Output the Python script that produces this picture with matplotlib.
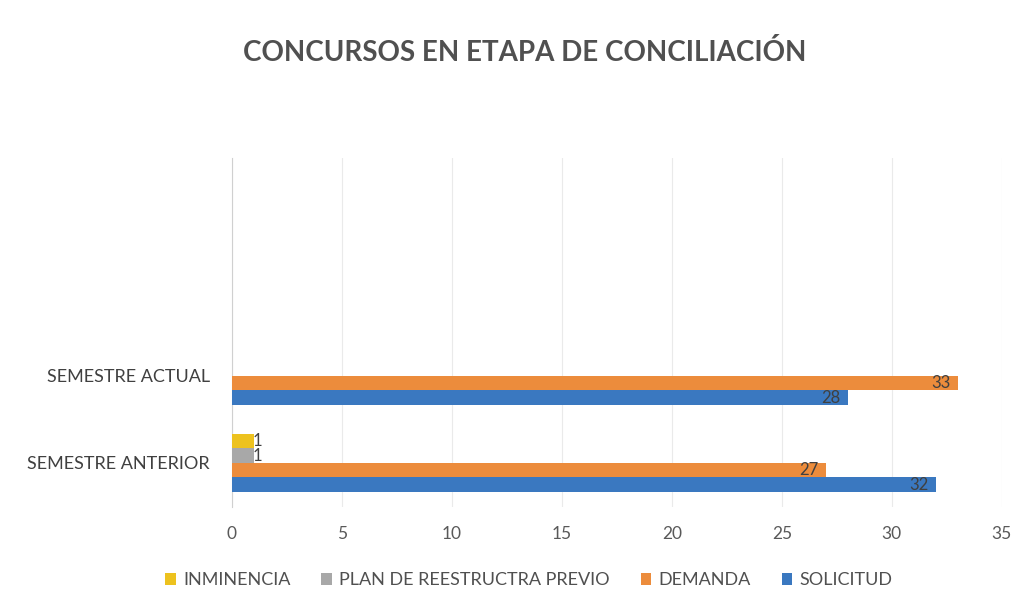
import matplotlib
matplotlib.use("Agg")
import matplotlib.pyplot as plt
import numpy as np

plt.rcParams['font.family'] = ['Lato', 'DejaVu Sans']

categories = ["SEMESTRE ANTERIOR", "SEMESTRE ACTUAL", "", ""]
series_names = ["SOLICITUD", "DEMANDA", "PLAN DE REESTRUCTRA PREVIO", "INMINENCIA"]
solicitud = [32, 28, 0, 0]
demanda = [27, 33, 0, 0]
plan = [1, 0, 0, 0]
inminencia = [1, 0, 0, 0]
x_ticks = [0, 5, 10, 15, 20, 25, 30, 35]

colors = ["#3A78C0", "#EC8C3C", "#A8A8A8", "#EDC21E"]
series = [solicitud, demanda, plan, inminencia]

fig = plt.figure(figsize=(10.13, 6.14), dpi=100)
ax = fig.add_axes([0.229, 0.175, 0.76, 0.568])

n = len(series)
bar_h = 1.0 / (n * 1.5)
y = np.arange(len(categories))
handles = []
for i, (vals, c, name) in enumerate(zip(series, colors, series_names)):
    offs = (i - (n - 1) / 2) * bar_h
    bars = ax.barh(y + offs, vals, height=bar_h, color=c, label=name, zorder=3)
    handles.append(bars)
    for yy, v in zip(y + offs, vals):
        if v == 0:
            continue
        if v >= 5:
            ax.text(v - 0.35, yy, str(v), ha='right', va='center', fontsize=12, color='#404040', zorder=4)
        else:
            ax.text(v - 0.05, yy, str(v), ha='left', va='center', fontsize=12, color='#404040', zorder=4)

ax.set_xlim(0, 35)
ax.set_ylim(-0.5, len(categories) - 0.5)
ax.set_xticks(x_ticks)
ax.set_xticklabels([str(t) for t in x_ticks], fontsize=12.5, color='#595959')
ax.set_yticks(y)
ax.set_yticklabels(categories, fontsize=13, color='#404040')
ax.tick_params(axis='both', length=0)
ax.tick_params(axis='x', pad=14)
ax.tick_params(axis='y', pad=16)
for s in ['top', 'right', 'bottom']:
    ax.spines[s].set_visible(False)
ax.spines['left'].set_color('#D0D0D0')
ax.xaxis.grid(True, color='#EAEAEA', linewidth=0.8, zorder=0)
ax.set_axisbelow(True)

fig.text(0.518, 0.915, "CONCURSOS EN ETAPA DE CONCILIACIÓN", ha='center', va='center',
         fontsize=20, fontweight='bold', color='#505050')

leg_handles = [handles[3], handles[2], handles[1], handles[0]]
fig.legend(leg_handles, [series_names[3], series_names[2], series_names[1], series_names[0]],
           loc='center', bbox_to_anchor=(0.522, 0.055), ncol=4, frameon=False,
           fontsize=13, handlelength=0.6, handleheight=0.7, columnspacing=1.7,
           handletextpad=0.4, labelcolor='#505050')

fig.savefig("out.png", dpi=100)
